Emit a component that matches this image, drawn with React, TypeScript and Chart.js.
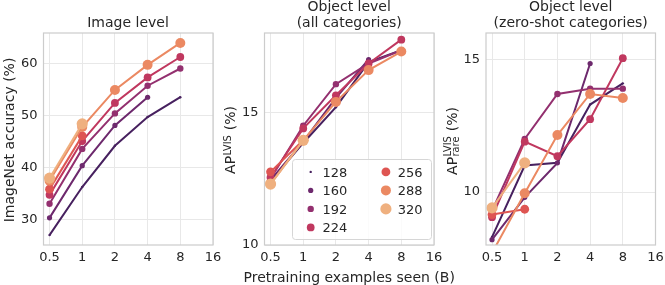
import React, { useEffect, useRef } from 'react';
import { Chart, registerables } from 'chart.js';

Chart.register(...registerables);

const FONT = "'DejaVu Sans', 'Liberation Sans', sans-serif";
const TEXT = '#262626';
const GRID = '#e8e8e8';
const FRAME = '#cccccc';
const CANVAS_W = 720;
const CANVAS_H = 285;

// ---------- data ----------
const examplesSeen = [0.5, 1, 2, 4, 8];
const xTickValues = [0.5, 1, 2, 4, 8, 16];
const resolutions = ['128', '160', '192', '224', '256', '288', '320'];
const resolutionColors = ['#47215f', '#6d296d', '#93306f', '#c0385f', '#de5552', '#eb8962', '#efb07f'];
const markerRadius = [1.2, 2.6, 3.2, 3.9, 4.4, 5.0, 5.6];

// Image level (ImageNet accuracy %)
const imageNet128 = [27.1, 36.3, 44.2, 49.7, 53.5];
const imageNet160 = [30.4, 40.4, 48.1, 53.5, null];
const imageNet192 = [33.1, 43.6, 50.4, 55.7, 59.0];
const imageNet224 = [34.8, 45.1, 52.4, 57.3, 61.2];
const imageNet256 = [35.9, 46.1, null, null, null];
const imageNet288 = [37.5, 47.8, 54.9, 59.7, 63.9];
const imageNet320 = [38.0, 48.4, null, null, null];
const imageNetTicks = [30, 40, 50, 60];

// Object level, all categories (AP LVIS %)
const lvisAll128 = [12.4, 13.85, 15.2, 16.9, 17.35];
const lvisAll160 = [12.45, 13.9, 15.55, 17.0, null];
const lvisAll192 = [12.5, 14.5, 16.07, 16.85, 17.35];
const lvisAll224 = [12.55, 14.4, 15.65, 16.85, 17.75];
const lvisAll256 = [12.76, 13.95, null, null, null];
const lvisAll288 = [12.3, 13.95, 15.4, 16.6, 17.3];
const lvisAll320 = [12.3, 13.95, null, null, null];
const lvisAllTicks = [10, 15];

// Object level, zero-shot categories (AP LVIS rare %)
const lvisRare128 = [8.3, 11.0, 11.1, 13.3, 14.1];
const lvisRare160 = [8.2, 9.8, 11.1, 14.85, null];
const lvisRare192 = [9.3, 12.0, 13.7, 13.9, 13.9];
const lvisRare224 = [9.05, 11.9, 11.35, 12.75, 15.05];
const lvisRare256 = [9.15, 9.35, null, null, null];
const lvisRare288 = [7.7, 9.95, 12.15, 13.7, 13.55];
const lvisRare320 = [9.4, 11.1, null, null, null];
const lvisRareTicks = [10, 15];

// ---------- helpers ----------
type Area = { left: number; right: number; top: number; bottom: number };

function drawYLabel(
  ctx: CanvasRenderingContext2D,
  baseX: number,
  cy: number,
  main: string,
  sup: string | null,
  sub: string | null,
  tail: string,
  supRaise: number,
  subDrop: number
) {
  ctx.save();
  ctx.translate(baseX, cy);
  ctx.rotate(-Math.PI / 2);
  ctx.fillStyle = TEXT;
  ctx.textBaseline = 'alphabetic';
  ctx.textAlign = 'left';
  const big = `14px ${FONT}`;
  const small = `9.8px ${FONT}`;
  ctx.font = big;
  const wMain = ctx.measureText(main).width;
  const wTail = ctx.measureText(tail).width;
  ctx.font = small;
  const wSup = sup ? ctx.measureText(sup).width : 0;
  const wSub = sub ? ctx.measureText(sub).width : 0;
  const wScript = sup || sub ? Math.max(wSup, wSub) + 1 : 0;
  const total = wMain + wScript + wTail;
  let x = -total / 2;
  ctx.font = big;
  ctx.fillText(main, x, 0);
  x += wMain;
  ctx.font = small;
  if (sup) ctx.fillText(sup, x + 0.5, -supRaise);
  if (sub) ctx.fillText(sub, x + 0.5, subDrop);
  x += wScript;
  ctx.font = big;
  ctx.fillText(tail, x, 0);
  ctx.restore();
}

function drawTitle(ctx: CanvasRenderingContext2D, cx: number, lines: string[], baselines: number[]) {
  ctx.save();
  ctx.fillStyle = TEXT;
  ctx.font = `14px ${FONT}`;
  ctx.textAlign = 'center';
  ctx.textBaseline = 'alphabetic';
  lines.forEach((l, i) => ctx.fillText(l, cx, baselines[i]));
  ctx.restore();
}

function drawLegend(ctx: CanvasRenderingContext2D) {
  const bx = 292.5, by = 159.5, bw = 139, bh = 80, r = 3;
  ctx.save();
  ctx.beginPath();
  ctx.moveTo(bx + r, by);
  ctx.lineTo(bx + bw - r, by);
  ctx.quadraticCurveTo(bx + bw, by, bx + bw, by + r);
  ctx.lineTo(bx + bw, by + bh - r);
  ctx.quadraticCurveTo(bx + bw, by + bh, bx + bw - r, by + bh);
  ctx.lineTo(bx + r, by + bh);
  ctx.quadraticCurveTo(bx, by + bh, bx, by + bh - r);
  ctx.lineTo(bx, by + r);
  ctx.quadraticCurveTo(bx, by, bx + r, by);
  ctx.closePath();
  ctx.fillStyle = 'rgba(255,255,255,0.8)';
  ctx.fill();
  ctx.strokeStyle = '#d6d6d6';
  ctx.lineWidth = 1;
  ctx.stroke();
  const rowBaselines = [176.7, 195.2, 213.7, 232.2];
  ctx.font = `13px ${FONT}`;
  ctx.textAlign = 'left';
  ctx.textBaseline = 'alphabetic';
  resolutions.forEach((label, i) => {
    const col = i < 4 ? 0 : 1;
    const row = col === 0 ? i : i - 4;
    const mx = col === 0 ? 310.7 : 385.9;
    const tx = col === 0 ? 322.5 : 397.8;
    const base = rowBaselines[row];
    ctx.beginPath();
    ctx.arc(mx, base - 4.8, markerRadius[i], 0, Math.PI * 2);
    ctx.fillStyle = resolutionColors[i];
    ctx.fill();
    ctx.fillStyle = TEXT;
    ctx.fillText(label, tx, base);
  });
  ctx.restore();
}

type Panel = {
  series: (number | null)[][];
  yMin: number;
  yMax: number;
  yTicks: number[];
  area: Area;
  decorate: (ctx: CanvasRenderingContext2D) => void;
};

const Y_AXIS_W = 40;

const panels: Panel[] = [
  {
    series: [imageNet128, imageNet160, imageNet192, imageNet224, imageNet256, imageNet288, imageNet320],
    yMin: 25.2,
    yMax: 65.8,
    yTicks: imageNetTicks,
    area: { left: 43.5, right: 213, top: 33, bottom: 245 },
    decorate: (ctx) => {
      drawTitle(ctx, 128, ['Image level'], [27]);
      drawYLabel(ctx, 13.5, 140, 'ImageNet accuracy (%)', null, null, '', 0, 0);
    },
  },
  {
    series: [lvisAll128, lvisAll160, lvisAll192, lvisAll224, lvisAll256, lvisAll288, lvisAll320],
    yMin: 10,
    yMax: 18,
    yTicks: lvisAllTicks,
    area: { left: 264.5, right: 434, top: 33, bottom: 245 },
    decorate: (ctx) => {
      drawTitle(ctx, 349.2, ['Object level', '(all categories)'], [10.5, 27]);
      drawYLabel(ctx, 235.3, 140, 'AP', 'LVIS', null, ' (%)', 4.5, 0);
      ctx.save();
      ctx.fillStyle = TEXT;
      ctx.font = `14px ${FONT}`;
      ctx.textAlign = 'center';
      ctx.textBaseline = 'alphabetic';
      ctx.fillText('Pretraining examples seen (B)', 349.2, 281.5);
      ctx.restore();
      drawLegend(ctx);
    },
  },
  {
    series: [lvisRare128, lvisRare160, lvisRare192, lvisRare224, lvisRare256, lvisRare288, lvisRare320],
    yMin: 8,
    yMax: 16,
    yTicks: lvisRareTicks,
    area: { left: 486, right: 655.5, top: 33, bottom: 245 },
    decorate: (ctx) => {
      drawTitle(ctx, 570.7, ['Object level', '(zero-shot categories)'], [10.5, 27]);
      drawYLabel(ctx, 456.5, 141, 'AP', 'LVIS', 'rare', ' (%)', 5.5, 2.5);
    },
  },
];

function makeConfig(p: Panel): any {
  const framePlugin = {
    id: 'frame',
    afterDatasetsDraw(chart: any) {
      const { ctx, chartArea } = chart;
      ctx.save();
      ctx.strokeStyle = FRAME;
      ctx.lineWidth = 1.2;
      ctx.strokeRect(chartArea.left, chartArea.top, chartArea.right - chartArea.left, chartArea.bottom - chartArea.top);
      ctx.restore();
    },
  };
  const textPlugin = {
    id: 'texts',
    afterDraw(chart: any) {
      p.decorate(chart.ctx);
    },
  };
  return {
    type: 'line',
    data: {
      datasets: p.series.map((vals, i) => ({
        label: resolutions[i],
        data: examplesSeen
          .map((x, j) => ({ x, y: vals[j] }))
          .filter((pt) => pt.y !== null && pt.y !== undefined),
        borderColor: resolutionColors[i],
        backgroundColor: resolutionColors[i],
        pointBackgroundColor: resolutionColors[i],
        pointBorderColor: resolutionColors[i],
        pointBorderWidth: 0,
        pointRadius: markerRadius[i],
        borderWidth: 2,
        tension: 0,
        order: -i,
        clip: 0,
      })),
    },
    options: {
      responsive: false,
      animation: false,
      events: [],
      layout: {
        padding: {
          left: p.area.left - Y_AXIS_W,
          right: CANVAS_W - p.area.right,
          top: p.area.top,
          bottom: 0,
        },
      },
      plugins: {
        legend: { display: false },
        tooltip: { enabled: false },
        title: { display: false },
      },
      scales: {
        x: {
          type: 'logarithmic',
          min: 0.44,
          max: 16,
          afterBuildTicks: (s: any) => {
            s.ticks = xTickValues.map((v) => ({ value: v }));
          },
          afterFit: (s: any) => {
            s.height = CANVAS_H - p.area.bottom;
          },
          ticks: {
            callback: (v: any) => String(v),
            autoSkip: false,
            maxRotation: 0,
            padding: 5,
            color: TEXT,
            font: { family: FONT, size: 13 },
          },
          grid: { color: GRID, drawTicks: false, lineWidth: 1 },
          border: { display: false },
        },
        y: {
          type: 'linear',
          min: p.yMin,
          max: p.yMax,
          afterBuildTicks: (s: any) => {
            s.ticks = p.yTicks.map((v) => ({ value: v }));
          },
          afterFit: (s: any) => {
            s.width = Y_AXIS_W;
          },
          ticks: {
            callback: (v: any) => String(v),
            padding: 6,
            color: TEXT,
            font: { family: FONT, size: 13 },
          },
          grid: { color: GRID, drawTicks: false, lineWidth: 1 },
          border: { display: false },
        },
      },
    },
    plugins: [framePlugin, textPlugin],
  };
}

function PanelCanvas({ panel }: { panel: Panel }) {
  const ref = useRef<HTMLCanvasElement | null>(null);
  useEffect(() => {
    if (!ref.current) return;
    const chart = new Chart(ref.current, makeConfig(panel));
    return () => chart.destroy();
  }, [panel]);
  return (
    <canvas
      ref={ref}
      width={CANVAS_W}
      height={CANVAS_H}
      style={{ position: 'absolute', left: 0, top: 0, width: CANVAS_W, height: CANVAS_H }}
    />
  );
}

export default function App() {
  Chart.defaults.font.family = FONT;
  Chart.defaults.color = TEXT;
  return (
    <div
      style={{
        position: 'fixed',
        left: 0,
        top: 0,
        width: 665,
        height: 285,
        overflow: 'hidden',
        background: '#ffffff',
      }}
    >
      {panels.map((p, i) => (
        <PanelCanvas key={i} panel={p} />
      ))}
    </div>
  );
}
